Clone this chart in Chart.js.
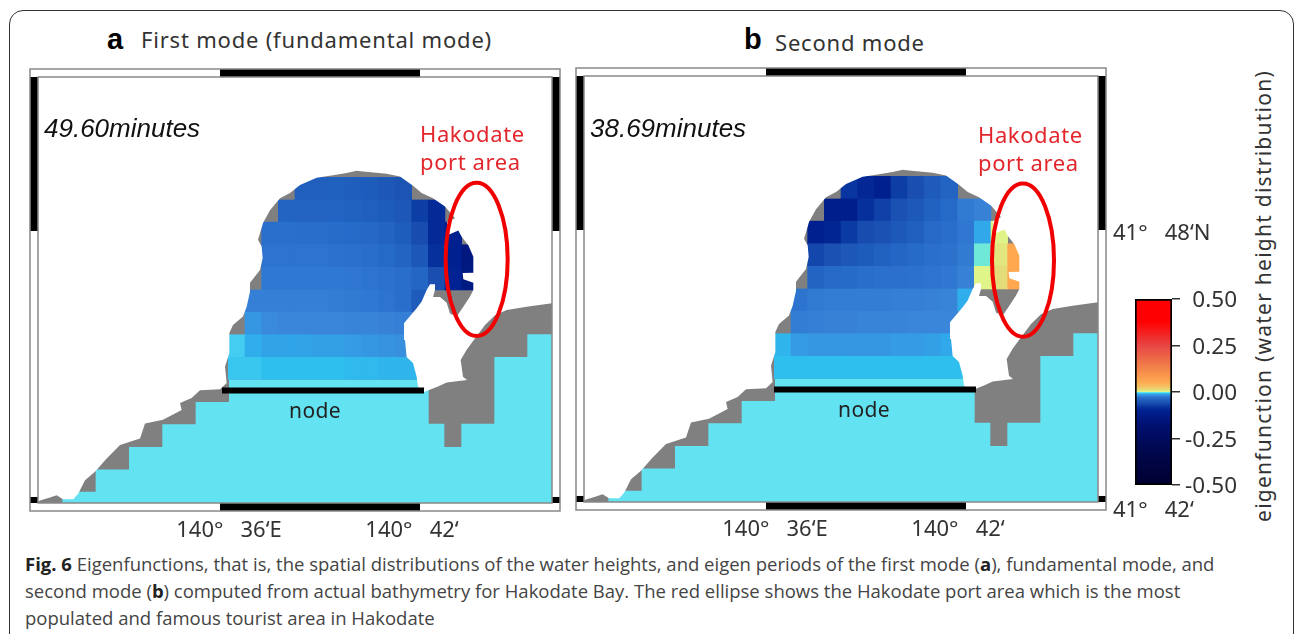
<!DOCTYPE html>
<html lang="en">
<head>
<meta charset="UTF-8">
<title>Fig. 6 Eigenfunctions for Hakodate Bay</title>
<script src="https://cdn.jsdelivr.net/npm/chart.js@4"></script>
<style>
    html, body { margin: 0; background: #fff; }
    body { width: 1295px; height: 634px; overflow: hidden; position: relative; font-family: "Noto Sans", sans-serif; color: #333; }
    canvas { position: absolute; }
    .box { position: absolute; left: 9px; top: 10px; width: 1285px; height: 700px; border: 1.5px solid #333; border-radius: 14px; box-sizing: border-box; }
    .t { position: absolute; white-space: pre; line-height: 1; }
    .letter { font-family: "Liberation Sans", sans-serif; font-weight: bold; font-size: 29px; color: #000; }
    .title { font-size: 22px; letter-spacing: 0.8px; }
    .period { font-family: "Liberation Sans", sans-serif; font-style: italic; font-size: 26px; color: #111; }
    .port { font-size: 22px; letter-spacing: 0.6px; color: #e2262c; }
    .node { font-size: 21px; letter-spacing: 0.4px; color: #222; }
    .cap { font-family: "Open Sans", sans-serif; font-size: 18.5px; color: #444; }
    .cap b { color: #222; }
    .ylab { font-size: 21px; letter-spacing: 1.25px; left: 1263px; top: 296px; transform: translate(-50%, -50%) rotate(-90deg); }
</style>
</head>
<body>
<div class="box"></div>
<canvas id="panelA" width="570" height="490" style="left:0;top:60px"></canvas>
<canvas id="panelB" width="674" height="490" style="left:546px;top:59px"></canvas>
<canvas id="colorbar" width="110" height="220" style="left:1130px;top:280px"></canvas>

<span class="t letter" style="left:107px;top:25px">a</span>
<span class="t title" style="left:141px;top:28px">First mode (fundamental mode)</span>
<span class="t letter" style="left:744px;top:25px">b</span>
<span class="t title" style="left:775px;top:31px">Second mode</span>
<span class="t period" style="left:44px;top:115px">49.60minutes</span>
<span class="t period" style="left:590px;top:115px">38.69minutes</span>
<span class="t port" style="left:420px;top:122px">Hakodate</span>
<span class="t port" style="left:420px;top:150px">port area</span>
<span class="t port" style="left:978px;top:123px">Hakodate</span>
<span class="t port" style="left:978px;top:151px">port area</span>
<span class="t node" style="left:289px;top:400px">node</span>
<span class="t node" style="left:838px;top:399px">node</span>
<span class="t ylab">eigenfunction (water height distribution)</span>
<span class="t cap" style="left:25px;top:555px"><b>Fig. 6</b> Eigenfunctions, that is, the spatial distributions of the water heights, and eigen periods of the first mode (<b>a</b>), fundamental mode, and</span>
<span class="t cap" style="left:25px;top:582px">second mode (<b>b</b>) computed from actual bathymetry for Hakodate Bay. The red ellipse shows the Hakodate port area which is the most</span>
<span class="t cap" style="left:25px;top:609px">populated and famous tourist area in Hakodate</span>

<script>
    // axis limits, longitude = minutes past 140E, latitude = minutes past 41N
    const lonMin = 30.54, lonMax = 45.96, latMin = 41.864, latMax = 51.474;
    const lonLabelAt = [36.27, 41.76];
    const lonLabels = ['140°   36‘E', '140°   42‘'];
    const latLabelAt = [47.92, 41.66];
    const latLabels = ['41°   48‘N', '41°   42‘'];

    // black parts of the frame
    const frameLon = [[36, 42]];
    const frameLat = [[48, latMax], [latMin, 42]];

    // grid of the bay, cell centres and row edges
    const cellLon = [36.5, 37, 37.5, 38, 38.5, 39, 39.5, 40, 40.5, 41, 41.5, 42, 42.5, 43, 43.5];
    const rowLat = [49.21, 48.70, 48.20, 47.69, 47.18, 46.67, 46.17, 45.66, 45.15, 44.65];
    const rowFirstCell = [4, 3, 2, 2, 2, 1, 1, 0, 0];

    // eigenfunction per cell
    const modeA = [
        [-0.044, -0.044, -0.043, -0.045, -0.047, -0.051, -0.055],
        [-0.04, -0.04, -0.04, -0.04, -0.042, -0.044, -0.047, -0.052, -0.072, -0.09],
        [-0.031, -0.031, -0.032, -0.032, -0.033, -0.035, -0.037, -0.04, -0.046, -0.062, -0.09, -0.1],
        [-0.028, -0.028, -0.028, -0.028, -0.029, -0.03, -0.032, -0.035, -0.04, -0.052, -0.085, -0.1, -0.14],
        [-0.026, -0.026, -0.026, -0.026, -0.026, -0.027, -0.028, -0.029, -0.032, -0.038, -0.06, -0.098, -0.13],
        [-0.023, -0.023, -0.023, -0.023, -0.023, -0.024, -0.025, -0.026, -0.028, -0.032, -0.048],
        [-0.016, -0.019, -0.02, -0.02, -0.02, -0.02, -0.021, -0.021, -0.022, -0.023],
        [-0.006, -0.011, -0.013, -0.013, -0.013, -0.014, -0.014, -0.015, -0.016, -0.017, -0.018],
        [-0.007, -0.007, -0.008, -0.008, -0.008, -0.008, -0.008, -0.009, -0.009, -0.01, -0.01, -0.01]
    ];
    const modeB = [
        [-0.08, -0.092, -0.1, -0.072, -0.06, -0.048, -0.04],
        [-0.11, -0.11, -0.085, -0.07, -0.058, -0.05, -0.042, -0.035, -0.025, -0.022],
        [-0.1, -0.095, -0.075, -0.062, -0.058, -0.05, -0.044, -0.036, -0.032, -0.027, -0.012, 0.003],
        [-0.066, -0.058, -0.052, -0.047, -0.042, -0.038, -0.034, -0.031, -0.029, -0.025, -0.001, 0.008, 0.055],
        [-0.04, -0.036, -0.034, -0.032, -0.03, -0.03, -0.029, -0.028, -0.027, -0.022, 0.002, 0.012, 0.055],
        [-0.028, -0.025, -0.024, -0.024, -0.024, -0.024, -0.023, -0.023, -0.022, -0.021, -0.011],
        [-0.024, -0.023, -0.022, -0.022, -0.021, -0.021, -0.021, -0.02, -0.02, -0.02],
        [-0.01, -0.015, -0.016, -0.016, -0.016, -0.016, -0.016, -0.015, -0.015, -0.014, -0.012],
        [-0.008, -0.008, -0.008, -0.008, -0.008, -0.008, -0.008, -0.008, -0.008, -0.008, -0.008, -0.008]
    ];

    // stepped outline of the sea cells
    const seaLon = [31.27, 31.27, 32.27, 32.27, 33.27, 33.27, 34.27, 34.27, 35.27, 35.27, 36.27, 36.27, 42.26, 42.26, 42.73, 42.73, 43.24, 43.24, 44.23, 44.23, 45.22, 45.22, 45.96, 45.96];
    const seaLat = [41.864, 42.12, 42.12, 42.62, 42.62, 43.13, 43.13, 43.64, 43.64, 44.14, 44.14, 44.65, 44.65, 43.65, 43.65, 43.13, 43.13, 43.65, 43.65, 45.16, 45.16, 45.67, 45.67, 41.864];

    // fine coastline, everything on the land side of it is white
    const coastLon = [30.54, 45.96, 45.96, 45.20, 44.60, 44.25, 43.95, 43.68, 43.40, 43.22, 43.29, 43.41, 42.80, 42.54, 42.10, 41.94, 41.90, 41.79, 41.60, 41.55, 41.52, 41.90, 42.05, 42.20, 42.30, 42.45, 42.45, 42.39, 42.60, 42.80, 42.90, 43.10, 43.30, 43.50, 43.60, 43.60, 43.30, 43.28, 43.60, 43.60, 43.45, 43.25, 43.15, 42.84, 42.81, 43.05, 42.75, 42.39, 42.05, 41.79, 41.40, 41.00, 40.29, 40.10, 39.80, 39.39, 38.90, 38.40, 38.10, 37.80, 37.50, 37.29, 37.20, 37.14, 37.25, 37.28, 37.20, 36.90, 36.90, 36.80, 36.69, 36.39, 36.28, 36.28, 36.15, 36.20, 36.00, 35.40, 35.15, 34.80, 34.85, 34.29, 33.75, 33.60, 33.00, 32.60, 32.25, 31.95, 31.75, 31.60, 31.29, 31.10, 30.90, 30.60, 30.54];
    const coastLat = [51.474, 51.474, 46.37, 46.29, 46.22, 46.10, 45.88, 45.61, 45.32, 45.09, 44.71, 44.64, 44.58, 44.49, 44.36, 44.49, 44.71, 45.02, 45.16, 45.54, 45.92, 46.26, 46.41, 46.67, 46.80, 46.80, 46.67, 46.51, 46.51, 46.38, 46.14, 46.07, 46.29, 46.52, 46.67, 46.83, 46.91, 47.05, 47.06, 47.42, 47.68, 47.87, 48.01, 47.91, 48.20, 48.29, 48.55, 48.74, 48.86, 49.02, 49.23, 49.29, 49.34, 49.36, 49.31, 49.26, 49.20, 49.04, 48.86, 48.74, 48.47, 48.18, 47.95, 47.80, 47.65, 47.39, 47.12, 46.83, 46.63, 46.29, 46.07, 45.88, 45.70, 45.25, 44.94, 44.57, 44.43, 44.41, 44.23, 44.12, 43.96, 43.74, 43.66, 43.32, 43.17, 42.87, 42.57, 42.38, 42.08, 41.95, 41.95, 42.04, 41.99, 41.92, 41.89];

    // node lines and port ellipses
    const nodeLat = 44.40;
    const nodeLonA = [36.06, 42.12];
    const nodeLonB = [36.24, 42.30];
    const ellipseA = { lon: 43.70, lat: 47.36, rLon: 0.93, rLat: 1.73 };
    const ellipseB = { lon: 43.71, lat: 47.32, rLon: 0.93, rLat: 1.73 };

    // colour scale
    const scaleValues = [-0.5, -0.3, -0.18, -0.1, -0.075, -0.06, -0.045, -0.03, -0.02, -0.012, -0.008, -0.003, -0.001, 0.002, 0.012, 0.03, 0.055, 0.15, 0.25, 0.38, 0.5];
    const scaleColors = ['#000030', '#000850', '#001070', '#002090', '#0a3aa4', '#1a4fb0', '#1f5ebd', '#2a70cc', '#3a86da', '#30a8ea', '#2fbfee', '#63e2f2', '#70e8d8', '#dff58a', '#e4dc78', '#f5c060', '#ffa850', '#f07848', '#e84545', '#ff0000', '#ff0000'];
    const colorbarTicks = [-0.5, -0.25, 0, 0.25, 0.5];

    function hexToRgb(hex) {
        return [1, 3, 5].map(i => parseInt(hex.slice(i, i + 2), 16));
    }

    function valueColor(v) {
        let i = 0;
        while (i < scaleValues.length - 2 && v > scaleValues[i + 1]) i++;
        const f = Math.max(0, Math.min(1, (v - scaleValues[i]) / (scaleValues[i + 1] - scaleValues[i])));
        const a = hexToRgb(scaleColors[i]), b = hexToRgb(scaleColors[i + 1]);
        return 'rgb(' + a.map((c, k) => Math.round(c + (b[k] - c) * f)).join(',') + ')';
    }

    function toPoints(lons, lats) {
        return lons.map((x, i) => ({ x: x, y: lats[i] }));
    }

    function polygon(data, color, order) {
        return { type: 'line', data: data, order: order, fill: 'shape', backgroundColor: color, borderColor: color, borderWidth: 0, pointRadius: 0, tension: 0 };
    }

    // labels sit off the frame, so the scales must not add margins for them
    function noMargins(s) {
        s.paddingTop = s.paddingBottom = s.paddingLeft = s.paddingRight = 0;
    }

    // draws the banded map frame and the red ellipse
    function mapDecor(ellipse) {
        return {
            id: 'mapDecor',
            afterDatasetsDraw(chart) {
                const { ctx, chartArea: area, scales: { x, y } } = chart;
                const band = 8;
                ctx.save();
                ctx.strokeStyle = '#f00000';
                ctx.lineWidth = 4;
                ctx.beginPath();
                ctx.ellipse(x.getPixelForValue(ellipse.lon), y.getPixelForValue(ellipse.lat),
                    x.getPixelForValue(ellipse.lon + ellipse.rLon) - x.getPixelForValue(ellipse.lon),
                    y.getPixelForValue(ellipse.lat) - y.getPixelForValue(ellipse.lat + ellipse.rLat), 0, 0, Math.PI * 2);
                ctx.stroke();

                ctx.fillStyle = '#000';
                frameLon.forEach(r => {
                    const x0 = x.getPixelForValue(r[0]), x1 = x.getPixelForValue(r[1]);
                    ctx.fillRect(x0, area.top - band, x1 - x0, band);
                    ctx.fillRect(x0, area.bottom, x1 - x0, band);
                });
                frameLat.forEach(r => {
                    const y0 = y.getPixelForValue(r[1]), y1 = y.getPixelForValue(r[0]);
                    ctx.fillRect(area.left - band, y0, band, y1 - y0);
                    ctx.fillRect(area.right, y0, band, y1 - y0);
                });
                ctx.strokeStyle = '#888';
                ctx.lineWidth = 1.5;
                ctx.strokeRect(area.left - band, area.top - band, area.width + band * 2, area.height + band * 2);
                ctx.strokeRect(area.left, area.top, area.width, area.height);
                ctx.restore();
            }
        };
    }

    function makePanel(id, values, nodeLon, ellipse, showLat) {
        const cells = [], colors = [];
        values.forEach((row, r) => {
            row.forEach((v, i) => {
                cells.push({ x: cellLon[rowFirstCell[r] + i], y: [rowLat[r + 1], rowLat[r]] });
                colors.push(valueColor(v));
            });
        });
        return new Chart(document.getElementById(id), {
            type: 'bar',
            data: {
                datasets: [
                    polygon(toPoints([lonMin, lonMax, lonMax, lonMin], [latMin, latMin, latMax, latMax]), '#808080', 5),
                    polygon(toPoints(seaLon, seaLat), '#63e2f2', 4),
                    { type: 'bar', data: cells, order: 3, backgroundColor: colors, barPercentage: 1, categoryPercentage: 1 },
                    polygon(toPoints(coastLon, coastLat), '#ffffff', 2),
                    { type: 'line', data: toPoints(nodeLon, [nodeLat, nodeLat]), order: 1, borderColor: '#000', borderWidth: 6, pointRadius: 0, fill: false }
                ]
            },
            options: {
                responsive: false,
                animation: false,
                events: [],
                layout: { padding: { left: 38, top: 17, right: showLat ? 0 : 18, bottom: 0 } },
                plugins: { legend: { display: false }, tooltip: { enabled: false } },
                scales: {
                    x: {
                        type: 'linear', offset: false, min: lonMin, max: lonMax,
                        grid: { display: false, offset: false },
                        border: { display: false },
                        afterBuildTicks: s => { s.ticks = lonLabelAt.map(v => ({ value: v })); },
                        afterFit: s => { s.height = 47; noMargins(s); },
                        ticks: {
                            padding: 7, maxRotation: 0, autoSkip: false, color: '#333',
                            font: { family: 'Noto Sans', size: 22 },
                            callback: (v, i) => lonLabels[i]
                        }
                    },
                    y: {
                        type: 'linear', position: 'right', display: showLat, min: latMin, max: latMax,
                        grid: { display: false },
                        border: { display: false },
                        afterBuildTicks: s => { s.ticks = latLabelAt.map(v => ({ value: v })); },
                        afterFit: s => { s.width = showLat ? 122 : 0; noMargins(s); },
                        ticks: {
                            padding: 7, autoSkip: false, color: '#333',
                            font: { family: 'Noto Sans', size: 22 },
                            callback: (v, i) => latLabels[i]
                        }
                    }
                }
            },
            plugins: [mapDecor(ellipse)]
        });
    }

    makePanel('panelA', modeA, nodeLonA, ellipseA, false);
    makePanel('panelB', modeB, nodeLonB, ellipseB, true);

    // colour bar
    new Chart(document.getElementById('colorbar'), {
        type: 'bar',
        data: {
            labels: [''],
            datasets: [{
                data: [[-0.5, 0.5]],
                barPercentage: 1,
                categoryPercentage: 1,
                borderColor: '#000',
                borderWidth: 2,
                borderSkipped: false,
                backgroundColor: ctx => {
                    const area = ctx.chart.chartArea;
                    if (!area) return '#000';
                    const g = ctx.chart.ctx.createLinearGradient(0, area.bottom, 0, area.top);
                    scaleValues.forEach((v, i) => g.addColorStop(v + 0.5, scaleColors[i]));
                    return g;
                }
            }]
        },
        options: {
            responsive: false,
            animation: false,
            events: [],
            layout: { padding: { left: 5, top: 19, right: 3, bottom: 15 } },
            plugins: { legend: { display: false }, tooltip: { enabled: false } },
            scales: {
                x: { display: false },
                y: {
                    position: 'right', min: -0.5, max: 0.5,
                    grid: { drawOnChartArea: false, tickLength: 8, color: '#333', lineWidth: 1.5 },
                    border: { display: false },
                    afterBuildTicks: s => { s.ticks = colorbarTicks.map(v => ({ value: v })); },
                    afterFit: s => { s.width = 65; noMargins(s); },
                    ticks: {
                        padding: 4, crossAlign: 'far', color: '#333', labelOffset: 2,
                        font: { family: 'Noto Sans', size: 22.5 },
                        callback: v => v.toFixed(2)
                    }
                }
            }
        }
    });
</script>
</body>
</html>
